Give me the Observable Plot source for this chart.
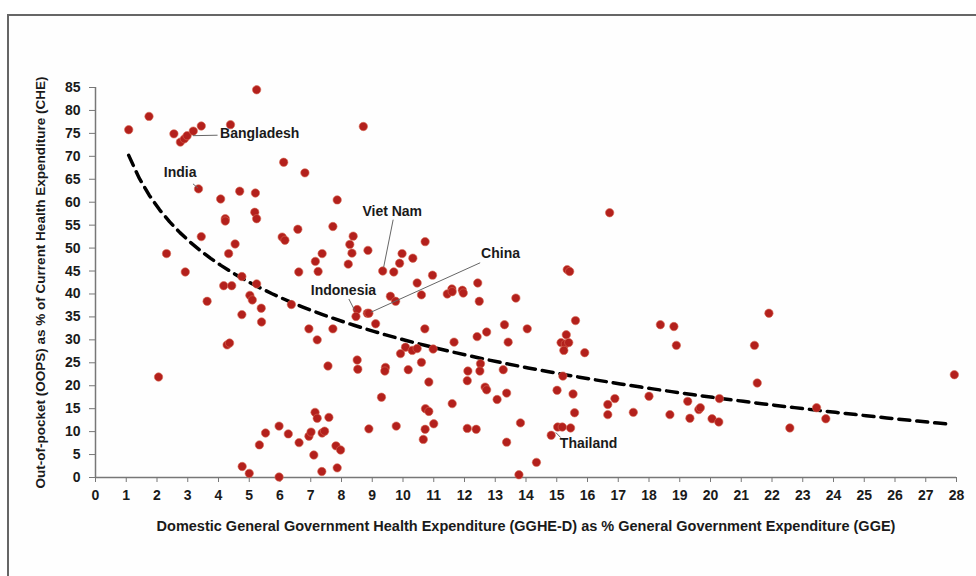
<!DOCTYPE html>
<html><head><meta charset="utf-8">
<script src="https://cdn.jsdelivr.net/npm/d3@7"></script>
<script src="https://cdn.jsdelivr.net/npm/@observablehq/plot@0.6"></script>
<style>
body{margin:0;background:#fff;}
#wrap{position:relative;width:976px;height:576px;overflow:hidden;background:#fff}
#frame{position:absolute;left:7px;top:14px;width:1000px;height:600px;border:2px solid #666;box-sizing:border-box;background:#fefefe}
#chart{position:absolute;left:0;top:0}
#chart svg text{font-weight:bold}
#chart g[aria-label="x-axis tick"] path,#chart g[aria-label="y-axis tick"] path{stroke:#777}
#chart g[aria-label="x-axis tick label"] text,#chart g[aria-label="y-axis tick label"] text{font-size:14px}
</style></head><body>
<div id="wrap"><div id="frame"></div><div id="chart"></div></div>
<script>
// GGHE-D as % GGE (x)
const gghe = [1.08,1.74,2.55,2.76,2.89,2.98,3.18,3.44,4.39,5.24,3.35,4.07,4.69,5.2,5.18,5.24,4.22,4.22,3.44,4.54,4.33,2.31,2.92,4.76,4.17,4.43,5.24,6.12,6.81,6.07,6.16,6.58,6.61,8.71,7.86,7.72,8.38,8.27,8.34,8.86,7.37,7.15,7.24,8.22,9.34,9.70,9.89,9.97,10.32,10.72,10.96,10.46,11.59,11.93,12.43,16.72,15.34,15.42,3.63,5.02,5.10,4.76,5.39,5.40,4.28,4.36,6.37,6.94,2.05,5.97,5.53,5.33,6.27,6.62,6.94,4.77,5.0,5.97,9.59,9.76,10.6,11.44,11.6,11.96,12.48,13.67,8.51,8.47,8.84,8.89,9.11,7.72,7.21,10.71,13.3,12.72,12.41,14.04,13.42,11.66,10.08,9.92,10.3,10.46,10.98,10.6,8.51,8.53,7.56,9.43,9.41,10.17,10.84,12.11,12.09,12.52,12.5,13.26,12.67,12.72,13.37,13.06,9.3,11.6,10.73,10.84,11.0,10.72,10.66,8.89,9.78,12.09,12.38,13.37,13.82,13.77,7.14,7.21,7.59,7.82,7.97,7.86,7.36,7.1,7.01,7.37,7.45,14.34,15.61,15.31,15.14,15.28,15.39,15.23,15.91,15.2,15.01,15.53,15.58,15.03,15.18,15.45,14.82,16.66,16.89,16.66,17.49,18.0,18.37,18.81,18.89,18.68,19.26,19.33,19.62,19.67,20.05,20.27,20.29,21.9,21.43,21.52,22.58,23.45,23.75,27.93];
// OOPS as % CHE (y)
const oops = [75.8,78.7,74.9,73.1,73.8,74.5,75.5,76.6,76.9,84.5,62.9,60.7,62.4,62.0,57.8,56.4,56.4,55.9,52.5,50.9,48.8,48.8,44.8,43.8,41.8,41.8,42.2,68.7,66.4,52.4,51.7,54.1,44.8,76.5,60.5,54.7,52.6,50.8,48.9,49.5,48.8,47.1,44.9,46.5,45.0,44.8,46.7,48.8,47.8,51.4,44.1,42.4,41.1,40.8,42.4,57.7,45.3,44.9,38.4,39.7,38.7,35.5,36.9,33.9,28.9,29.3,37.7,32.4,21.9,11.2,9.7,7.1,9.5,7.6,9.0,2.4,0.9,0.1,39.5,38.4,39.8,40.0,40.5,40.2,38.4,39.1,36.6,35.1,35.8,35.8,33.5,32.4,30.0,32.4,33.3,31.7,30.7,32.4,29.5,29.5,28.4,27.0,27.7,28.1,28.0,25.1,25.6,23.6,24.3,24.0,23.2,23.5,20.8,23.2,21.1,24.8,23.2,23.5,19.7,19.1,18.4,17.0,17.5,16.1,15.0,14.4,11.7,10.5,8.3,10.6,11.2,10.7,10.5,7.7,11.9,0.6,14.2,12.9,13.1,6.9,6.0,2.1,1.3,4.9,9.9,9.7,10.1,3.3,34.2,31.1,29.4,29.1,29.4,27.7,27.2,22.1,19.0,18.2,14.1,11.0,11.0,10.8,9.2,15.9,17.2,13.7,14.2,17.7,33.3,32.9,28.8,13.7,16.6,12.9,14.8,15.2,12.8,12.1,17.2,35.8,28.8,20.6,10.8,15.2,12.8,22.4];

const xTicks = d3.range(0, 29, 1);
const yTicks = d3.range(0, 86, 5);
const xTitle = "Domestic General Government Health Expenditure (GGHE-D) as % General Government Expenditure (GGE)";
const yTitle = "Out-of-pocket (OOPS) as % of Current Health Expenditure (CHE)";

// country annotations (label anchor + leader line, in data units)
const labelNames = ["Bangladesh", "India", "Viet Nam", "China", "Indonesia", "Thailand"];
const labelX = [4.05, 2.22, 8.68, 12.54, 7.0, 15.1];
const labelY = [75.0, 66.5, 58.0, 48.8, 40.8, 7.4];
const leadX1 = [3.17, 3.17, 9.68, 12.51, 8.24, 15.13];
const leadY1 = [74.5, 64.0, 56.2, 46.8, 38.9, 8.7];
const leadX2 = [3.97, 3.33, 9.37, 8.95, 8.43, 14.97];
const leadY2 = [74.6, 63.1, 45.8, 36.0, 36.4, 9.8];

const points = gghe.map((x, i) => ({x, y: oops[i]}));
const labels = labelNames.map((t, i) => ({t, x: labelX[i], y: labelY[i]}));
const leaders = labelNames.map((t, i) => ({x1: leadX1[i], y1: leadY1[i], x2: leadX2[i], y2: leadY2[i]}));

// logarithmic trend line fitted to the points (least squares on ln x)
const lx = gghe.map(Math.log);
const mx = d3.mean(lx), my = d3.mean(oops);
const b = d3.sum(lx, (v, i) => (v - mx) * (oops[i] - my)) / d3.sum(lx, v => (v - mx) ** 2);
const a = my - b * mx;
const x0 = d3.min(gghe), x1 = d3.max(gghe) - 0.2;
const trend = d3.range(0, 81).map(k => { const x = x0 + (x1 - x0) * k / 80; return {x, y: a + b * Math.log(x)}; });

const chart = Plot.plot({
  width: 976, height: 576,
  marginLeft: 95, marginRight: 20, marginTop: 87, marginBottom: 99,
  x: {domain: [0, 28]},
  y: {domain: [0, 85]},
  style: {background: "transparent", fontFamily: "'Liberation Sans', Arial, sans-serif", fontSize: "13px", color: "#1a1a1a"},
  marks: [
    Plot.ruleY([0], {stroke: "#777", strokeWidth: 1.5}),
    Plot.ruleX([0], {stroke: "#777", strokeWidth: 1.5}),
    Plot.axisX({ticks: xTicks, tickSize: 5, tickPadding: 8, label: null, tickFormat: d => d}),
    Plot.axisY({ticks: yTicks, tickSize: 6, tickPadding: 9, label: null, tickFormat: d => d}),
    Plot.line(trend, {x: "x", y: "y", stroke: "#000", strokeWidth: 3.5, strokeDasharray: "11,7"}),
    Plot.dot(points, {x: "x", y: "y", r: 4.2, fill: "#b3201c", stroke: "#d86a55", strokeWidth: 0.6}),
    Plot.link(leaders, {x1: "x1", y1: "y1", x2: "x2", y2: "y2", stroke: "#666", strokeWidth: 1}),
    Plot.text(labels, {x: "x", y: "y", text: "t", textAnchor: "start", fontSize: 14, fill: "#1a1a1a"}),
    Plot.text([xTitle], {text: d => d, frameAnchor: "bottom", dy: 53, fontSize: 14.5, fill: "#1a1a1a"}),
    Plot.text([yTitle], {text: d => d, frameAnchor: "left", textAnchor: "middle", dx: -55, rotate: -90, fontSize: 13.5, fill: "#1a1a1a"})
  ]
});
document.getElementById("chart").appendChild(chart);
</script>
</body></html>
